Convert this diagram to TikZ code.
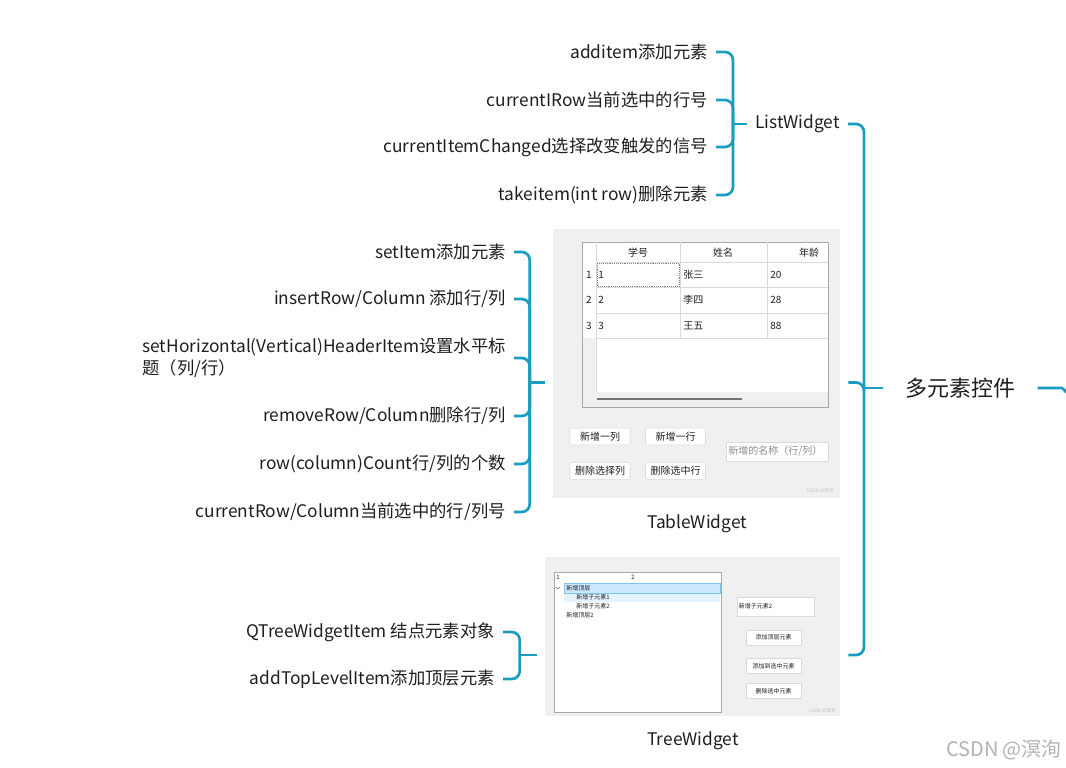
\documentclass[tikz,border=0pt]{standalone}
\usepackage{fontspec}
\setmainfont{Noto Sans CJK SC}
\usepackage{xcolor}
\usetikzlibrary{positioning, fit}
\definecolor{linkblue}{HTML}{1A9CC0}
\definecolor{shotgray}{HTML}{F0F0F0}
\definecolor{framegray}{HTML}{A8A8A8}
\definecolor{gridgray}{HTML}{DADADA}
\definecolor{selblue}{HTML}{CCE8FF}
\definecolor{selborder}{HTML}{7FC4EE}
\definecolor{hoverblue}{HTML}{E5F3FF}
\definecolor{inkgray}{HTML}{1E1E1E}
\tikzstyle{leaf} = [inner xsep=6pt, inner ysep=2pt, text=inkgray, font=\fontsize{13}{16.5}\selectfont]
\tikzstyle{root} = [inner xsep=16.5pt, inner ysep=2pt, text=inkgray, font=\fontsize{16.5}{20}\selectfont]
\tikzstyle{link} = [draw=linkblue, line width=2pt, rounded corners=6pt]
\tikzstyle{cell} = [inner sep=0pt, text=inkgray, font=\fontsize{7.5}{9}\selectfont]
\tikzstyle{btn} = [draw=gridgray, fill=white, rounded corners=1pt, minimum width=45pt, minimum height=12.5pt, inner sep=0pt, text=inkgray, font=\fontsize{7.5}{9}\selectfont]
\tikzstyle{tiny} = [inner sep=0pt, text=inkgray, font=\fontsize{4.5}{5.5}\selectfont]
\tikzstyle{tinybtn} = [draw=gridgray, fill=white, minimum width=41pt, minimum height=11pt, inner sep=0pt, text=inkgray, font=\fontsize{4.5}{5.5}\selectfont]
\tikzstyle{wmark} = [inner sep=0pt, text=black!25, font=\fontsize{3.5}{4}\selectfont]

\begin{document}
\begin{tikzpicture}[x=0.75pt, y=-0.75pt]
    \useasboundingbox (0,0) rectangle (1066,767);

    % Root
    \node [root, anchor=west] (root) at (883,388) {多元素控件};
    \coordinate (rootout) at (1074,398);
    \draw [link] (root.east) -- (1054,388) to[out=0, in=150] (rootout);

    % ListWidget branch
    \node [leaf, anchor=west] (list) at (747,124) {ListWidget};
    \node [leaf, anchor=east] (additem) at (716,52) {additem添加元素};
    \node [leaf, anchor=east] (currow) at (716,100) {currentIRow当前选中的行号};
    \node [leaf, anchor=east] (itemchg) at (716,147) {currentItemChanged选择改变触发的信号};
    \node [leaf, anchor=east] (takeitem) at (716,195) {takeitem(int row)删除元素};

    % TableWidget screenshot
    \fill [shotgray] (553,229) rectangle (840,498);
    \draw [framegray, fill=white] (582,242) rectangle (828,407);
    \fill [shotgray] (582.5,338) rectangle (596,392);
    \fill [shotgray] (582.5,392) rectangle (827.5,406.5);
    \draw [line width=1.6pt, black!55] (597,399) -- (742,399);
    \foreach \yy in {262,287,313,338} \draw [gridgray] (596,\yy) -- (828,\yy);
    \draw [gridgray] (596,242) -- (596,392);
    \foreach \xx in {680,767} \draw [gridgray] (\xx,242) -- (\xx,338);
    \draw [densely dotted, black!50] (597,263) rectangle (679,286);
    \node [cell] (hd1) at (638,253) {学号};
    \node [cell] (hd2) at (723,253) {姓名};
    \node [cell] (hd3) at (809,253) {年龄};
    \foreach \r/\na/\ag/\yy in {1/张三/20/275, 2/李四/28/300, 3/王五/88/326} {
        \node [cell] (rn\r) at (589,\yy) {\r};
        \node [cell, anchor=west] (id\r) at (598,\yy) {\r};
        \node [cell, anchor=west] (na\r) at (683,\yy) {\na};
        \node [cell, anchor=west] (ag\r) at (770,\yy) {\ag};
    }
    \node [btn] (addcol) at (600,436.5) {新增一列};
    \node [btn] (addrow) at (675.5,436.5) {新增一行};
    \node [btn] (delcol) at (600,471) {删除选择列};
    \node [btn] (delrow) at (675.5,471) {删除选中行};
    \node [draw=gridgray, fill=white, minimum width=76.5pt, minimum height=14pt, inner xsep=1.5pt, text=black!45, font=\fontsize{7.5}{9}\selectfont, text width=73pt, align=left] (newname) at (777,451.5) {新增的名称（行/列）};
    \node [wmark] (markA) at (820,491) {CSDN @溟洵};
    \node [leaf] (tablelabel) at (697,524) {TableWidget};
    \node [fit={(553,229)(840,498)(tablelabel)}, inner xsep=6pt, inner ysep=0pt] (table) {};

    % TableWidget leaves
    \node [leaf, anchor=east] (setitem) at (514,252) {setItem添加元素};
    \node [leaf, anchor=east] (insrow) at (514,299) {insertRow/Column 添加行/列};
    \node [leaf, anchor=east, align=left] (header) at (514,358) {setHorizontal(Vertical)HeaderItem设置水平标\\题（列/行）};
    \node [leaf, anchor=east] (remrow) at (514,416) {removeRow/Column删除行/列};
    \node [leaf, anchor=east] (rowcnt) at (514,464) {row(column)Count行/列的个数};
    \node [leaf, anchor=east] (curcol) at (514,512) {currentRow/Column当前选中的行/列号};

    % TreeWidget screenshot
    \fill [shotgray] (545,557) rectangle (840,716);
    \draw [framegray, fill=white] (554,572) rectangle (721,712);
    \node [tiny, anchor=west] (col1) at (556,577) {1};
    \node [tiny, anchor=west] (col2) at (631,577) {2};
    \fill [hoverblue] (564,593) rectangle (720,602);
    \draw [selborder, fill=selblue] (564,583) rectangle (720,593);
    \draw [black!55, line width=0.4pt] (556,587) -- (558,589) -- (560,587);
    \node [tiny, anchor=west] (top1) at (566,588) {新增顶层};
    \node [tiny, anchor=west] (sub1) at (576,597.5) {新增子元素1};
    \node [tiny, anchor=west] (sub2) at (576,606) {新增子元素2};
    \node [tiny, anchor=west] (top2) at (566,615) {新增顶层2};
    \node [draw=gridgray, fill=white, minimum width=58pt, minimum height=14pt, inner xsep=1.5pt, text width=55pt, align=left, text=inkgray, font=\fontsize{4.5}{5.5}\selectfont] (subname) at (775.5,606.5) {新增子元素2};
    \node [tinybtn] (addtop) at (773.5,637.5) {添加顶层元素};
    \node [tinybtn] (addsub) at (773.5,666) {添加到选中元素};
    \node [tinybtn] (delsub) at (773.5,691) {删除选中元素};
    \node [wmark] (markB) at (822,711) {CSDN @溟洵};
    \node [leaf] (treelabel) at (693,741) {TreeWidget};
    \node [fit={(545,557)(840,716)(treelabel)}, inner xsep=6pt, inner ysep=0pt] (tree) {};

    % TreeWidget leaves
    \node [leaf, anchor=east] (treeitem) at (503,632) {QTreeWidgetItem 结点元素对象};
    \node [leaf, anchor=east] (toplevel) at (503,679) {addTopLevelItem添加顶层元素};

    % Brackets
    \coordinate (listjoin) at ([xshift=-10.5pt]list.west);
    \coordinate (tablejoin) at ([xshift=-11.25pt]table.west);
    \coordinate (treejoin) at ([xshift=-12.75pt]tree.west);
    \coordinate (rootjoin) at ([xshift=-14.25pt]root.west);
    \foreach \n in {additem, currow, itemchg, takeitem} \draw [link] (\n.east) -| (listjoin);
    \draw [link] (listjoin) -- (list.west);
    \foreach \n in {setitem, insrow, header, remrow, rowcnt, curcol} \draw [link] (\n.east) -| (tablejoin);
    \draw [link] (tablejoin) -- (table.west);
    \foreach \n in {treeitem, toplevel} \draw [link] (\n.east) -| (treejoin);
    \draw [link] (treejoin) -- (tree.west);
    \foreach \n in {list, table, tree} \draw [link] (\n.east) -| (rootjoin);
    \draw [link] (rootjoin) -- (root.west);

    % Watermark
    \node [inner sep=0pt, text=black!30, font=\fontsize{15}{17}\selectfont] (csdn) at (1004,750) {CSDN @溟洵};
\end{tikzpicture}
\end{document}
